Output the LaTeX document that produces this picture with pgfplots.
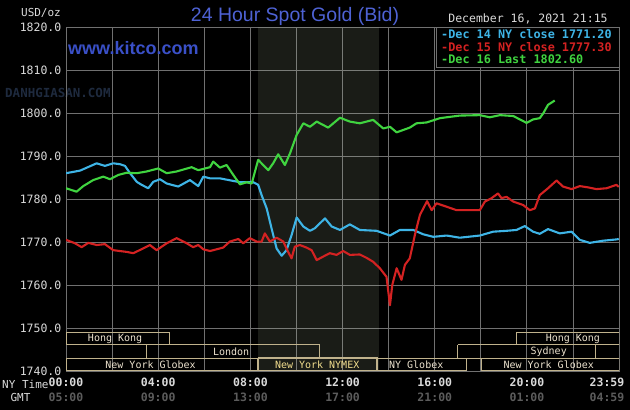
\documentclass[border=0pt]{standalone}
\usepackage{pgfplots}
\pgfplotsset{compat=1.18}
\usepackage{fontspec}
\setmainfont{Liberation Sans}
\newfontfamily\mono{DejaVu Sans Mono}
\definecolor{gridc}{RGB}{112,112,112}
\definecolor{blueL}{RGB}{62,180,230}
\definecolor{redL}{RGB}{212,34,34}
\definecolor{greenL}{RGB}{64,212,64}
\definecolor{titleb}{RGB}{78,98,212}
\definecolor{kitco}{RGB}{58,80,200}
\definecolor{sess}{RGB}{192,178,140}
\definecolor{sesstxt}{RGB}{236,226,206}
\definecolor{nymex}{RGB}{242,222,142}
\definecolor{labc}{RGB}{218,218,218}
\definecolor{gmtc}{RGB}{92,92,92}
\definecolor{wmark}{RGB}{30,42,62}
\begin{document}
\begin{tikzpicture}[x=1pt,y=1pt]
\path[use as bounding box] (0,0) rectangle (630,410);
\fill[black] (0,0) rectangle (630,410);
\node[wmark, font=\mono\bfseries\fontsize{12.5}{13}\selectfont, anchor=west, inner sep=0pt] at (5,317) {DANHGIASAN.COM};
\begin{axis}[at={(66pt,39pt)}, anchor=south west, scale only axis,
  width=553pt, height=344pt,
  xmin=0, xmax=24, ymin=1740, ymax=1820,
  xtick={0,2,...,24}, ytick={1740,1750,...,1820},
  xticklabel=\empty,
  grid=major, major grid style={gridc, line width=0.8pt},
  axis line style={gridc, line width=0.8pt}, major tick length=0pt,
  /pgf/number format/assume math mode=true,
  yticklabel style={font=\mono\fontsize{11.5}{12}\selectfont, color=labc, inner sep=0pt, xshift=-4.5pt,
    /pgf/number format/.cd, fixed, fixed zerofill, precision=1, 1000 sep={}},
  ]
% NYMEX pit shading
\addplot[draw=none, fill={rgb,255:red,176;green,190;blue,160}, fill opacity=0.15]
  coordinates {(8.33,1740) (13.58,1740) (13.58,1820) (8.33,1820)} -- cycle;
% session boxes
\addplot[sess, line width=1pt] coordinates {(0,1749) (4.5,1749) (4.5,1746.1) (0,1746.1) (0,1749)};
\addplot[sess, line width=1pt] coordinates {(19.55,1749) (24,1749) (24,1746.1) (19.55,1746.1) (19.55,1749)};
\addplot[sess, line width=1pt] coordinates {(3.5,1746.1) (11,1746.1) (11,1743.0) (3.5,1743.0) (3.5,1746.1)};
\addplot[sess, line width=1pt] coordinates {(17,1746.1) (23,1746.1) (23,1743.0) (17,1743.0) (17,1746.1)};
\addplot[sess, line width=1pt] coordinates {(0,1743.0) (8.33,1743.0) (8.33,1740) (0,1740) (0,1743.0)};
\addplot[sess, line width=1.4pt] coordinates {(8.33,1743.0) (13.5,1743.0) (13.5,1740) (8.33,1740) (8.33,1743.0)};
\addplot[sess, line width=1pt] coordinates {(13.5,1743.0) (17.4,1743.0) (17.4,1740) (13.5,1740) (13.5,1743.0)};
\addplot[sess, line width=1pt] coordinates {(18.05,1743.0) (24,1743.0) (24,1740) (18.05,1740) (18.05,1743.0)};
\node[sesstxt, font=\mono\fontsize{10}{10}\selectfont] at (axis cs:2.13,1747.55) {Hong Kong};
\node[sesstxt, font=\mono\fontsize{10}{10}\selectfont] at (axis cs:22.0,1747.55) {Hong Kong};
\node[sesstxt, font=\mono\fontsize{10}{10}\selectfont] at (axis cs:7.17,1744.55) {London};
\node[sesstxt, font=\mono\fontsize{10}{10}\selectfont] at (axis cs:20.95,1744.55) {Sydney};
\node[sesstxt, font=\mono\fontsize{10}{10}\selectfont] at (axis cs:3.67,1741.5) {New York Globex};
\node[nymex, font=\mono\fontsize{10}{10}\selectfont] at (axis cs:10.9,1741.5) {New York NYMEX};
\node[sesstxt, font=\mono\fontsize{10}{10}\selectfont] at (axis cs:15.2,1741.5) {NY Globex};
\node[sesstxt, font=\mono\fontsize{10}{10}\selectfont] at (axis cs:20.95,1741.5) {New York Globex};
% Dec 14
\addplot[blueL, line width=2.1pt, line join=round] coordinates {
(0,1786.0) (0.61,1786.6) (1.33,1788.3) (1.69,1787.7) (2.05,1788.3) (2.34,1788.1) (2.56,1787.7)
(2.78,1786.0) (3.07,1784.0) (3.28,1783.3) (3.57,1782.5) (3.79,1784.0) (4.08,1784.6) (4.37,1783.6)
(4.87,1782.9) (5.38,1784.4) (5.74,1783.0) (5.96,1785.2) (6.25,1784.8) (6.68,1784.8) (7.26,1784.2)
(7.55,1783.9) (8.13,1783.9) (8.34,1783.3) (8.49,1780.9) (8.71,1777.8) (8.92,1773.2) (9.14,1768.5)
(9.36,1766.8) (9.57,1768.1) (9.79,1771.6) (10.01,1775.7) (10.30,1773.6) (10.59,1772.6) (10.80,1773.2)
(11.24,1775.5) (11.53,1773.6) (11.89,1772.8) (12.32,1774.1) (12.75,1772.8) (13.48,1772.6) (14.06,1771.5)
(14.49,1772.8) (15.07,1772.8) (15.50,1771.8) (15.94,1771.2) (16.52,1771.5) (17.09,1771.0) (17.96,1771.5)
(18.54,1772.4) (19.12,1772.6) (19.55,1772.8) (19.91,1773.7) (20.27,1772.4) (20.56,1771.9) (20.92,1773.0)
(21.43,1772.0) (21.94,1772.4) (22.30,1770.5) (22.73,1769.8) (23.31,1770.3) (23.89,1770.6) (23.99,1770.7)};
% Dec 15
\addplot[redL, line width=2.1pt, line join=round] coordinates {
(0,1770.5) (0.39,1769.7) (0.68,1768.8) (0.97,1769.8) (1.33,1769.3) (1.69,1769.5) (2.05,1768.1)
(2.63,1767.7) (2.92,1767.4) (3.35,1768.5) (3.64,1769.3) (3.93,1768.1) (4.37,1769.7) (4.80,1770.9)
(5.24,1769.7) (5.52,1768.8) (5.74,1769.3) (5.96,1768.3) (6.25,1767.9) (6.82,1768.7) (7.11,1770.1)
(7.48,1770.7) (7.69,1769.7) (7.98,1770.9) (8.27,1770.1) (8.49,1770.1) (8.63,1772.0) (8.85,1770.1)
(9.14,1771.0) (9.43,1770.1) (9.64,1767.7) (9.79,1766.2) (9.93,1768.9) (10.15,1769.3) (10.44,1768.7)
(10.66,1768.1) (10.88,1765.8) (11.16,1766.6) (11.45,1767.4) (11.74,1767.0) (12.03,1767.9) (12.32,1767.0)
(12.75,1767.1) (13.05,1766.3) (13.33,1765.4) (13.62,1763.9) (13.91,1761.9) (14.06,1755.3) (14.16,1760.0)
(14.35,1763.9) (14.56,1761.2) (14.71,1764.7) (14.92,1766.2) (15.14,1771.6) (15.36,1776.3) (15.67,1779.5)
(15.87,1777.4) (16.08,1779.0) (16.52,1778.2) (16.95,1777.4) (17.38,1777.4) (17.96,1777.4) (18.18,1779.4)
(18.47,1780.2) (18.75,1781.3) (18.90,1780.2) (19.12,1780.5) (19.41,1779.4) (19.84,1778.6) (20.13,1777.4)
(20.35,1777.8) (20.56,1780.9) (20.92,1782.5) (21.29,1784.3) (21.57,1782.9) (21.94,1782.3) (22.30,1783.0)
(22.66,1782.7) (23.02,1782.3) (23.46,1782.5) (23.89,1783.3) (23.99,1782.8)};
% Dec 16
\addplot[greenL, line width=2.1pt, line join=round] coordinates {
(0,1782.5) (0.46,1781.7) (0.75,1783.0) (1.18,1784.4) (1.62,1785.2) (1.91,1784.6) (2.27,1785.6)
(2.63,1786.1) (3.07,1786.0) (3.50,1786.4) (4.00,1787.1) (4.37,1786.0) (4.80,1786.4) (5.45,1787.4)
(5.74,1786.7) (6.25,1787.4) (6.39,1788.7) (6.68,1787.3) (6.97,1787.9) (7.26,1785.6) (7.55,1783.4)
(7.84,1783.9) (8.06,1783.6) (8.34,1789.1) (8.56,1787.9) (8.78,1786.7) (8.99,1788.3) (9.21,1790.4)
(9.50,1787.9) (9.72,1790.6) (10.01,1794.9) (10.30,1797.6) (10.59,1796.8) (10.88,1798.0) (11.38,1796.6)
(11.89,1798.9) (12.32,1798.0) (12.75,1797.6) (13.33,1798.4) (13.77,1796.4) (14.06,1796.8) (14.35,1795.5)
(14.92,1796.6) (15.21,1797.6) (15.65,1797.8) (16.23,1798.8) (17.09,1799.4) (17.96,1799.5) (18.39,1799.0)
(18.83,1799.5) (19.41,1799.3) (19.99,1797.7) (20.27,1798.5) (20.56,1798.8) (20.71,1799.9) (20.92,1801.9)
(21.21,1802.9)};
\end{axis}
% texts around
\node[labc, font=\mono\fontsize{11}{12}\selectfont] at (41,397) {USD/oz};
\node[titleb, font=\fontsize{19.5}{21}\selectfont] at (295,394) {24 Hour Spot Gold (Bid)};
\node[kitco, font=\bfseries\fontsize{18}{20}\selectfont, anchor=west, inner sep=0pt] at (68,362) {www.kitco.com};
\node[labc, font=\mono\fontsize{11.5}{12}\selectfont] at (528,391) {December 16, 2021 21:15};
% legend
\draw[gridc, line width=0.8pt, fill=black] (436,383) rectangle (619,343);
\node[blueL, font=\mono\bfseries\fontsize{11.8}{12}\selectfont, anchor=west, inner sep=0pt] at (441,375.7) {-Dec 14 NY close 1771.20};
\node[redL, font=\mono\bfseries\fontsize{11.8}{12}\selectfont, anchor=west, inner sep=0pt] at (441,363.3) {-Dec 15 NY close 1777.30};
\node[greenL, font=\mono\bfseries\fontsize{11.8}{12}\selectfont, anchor=west, inner sep=0pt] at (441,350.7) {-Dec 16 Last 1802.60};
% time axis
\node[labc, font=\mono\fontsize{11}{12}\selectfont, anchor=west, inner sep=0pt] at (2,25.5) {NY Time};
\node[labc, font=\mono\fontsize{11}{12}\selectfont] at (20.5,13) {GMT};
\foreach \xx/\ta/\tb in {66/00:00/05:00, 158.2/04:00/09:00, 250.4/08:00/13:00, 342.6/12:00/17:00, 434.8/16:00/21:00, 527/20:00/01:00, 607/23:59/04:59} {
  \node[labc, font=\mono\bfseries\fontsize{11.5}{12}\selectfont] at (\xx,27.7) {\ta};
  \node[gmtc, font=\mono\bfseries\fontsize{11.5}{12}\selectfont] at (\xx,13) {\tb};
}
\end{tikzpicture}
\end{document}
